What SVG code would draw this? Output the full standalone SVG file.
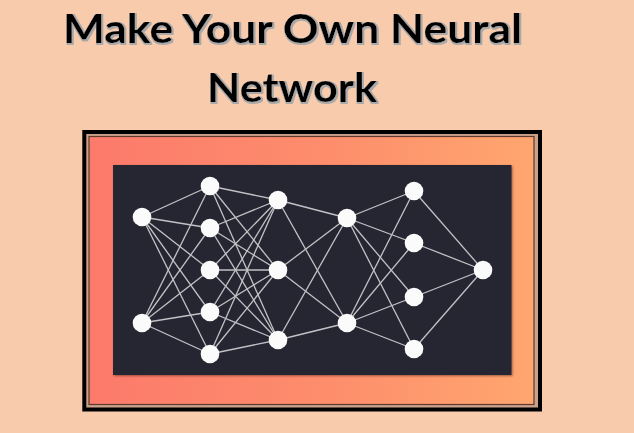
<svg xmlns="http://www.w3.org/2000/svg" width="634" height="433" viewBox="0 0 634 433">
  <defs>
    <linearGradient id="frameGrad" x1="0" y1="0" x2="1" y2="0">
      <stop offset="0" stop-color="#fc7a6b"/>
      <stop offset="0.55" stop-color="#fd8e6c"/>
      <stop offset="1" stop-color="#ffa66f"/>
    </linearGradient>
    <filter id="panelShadow" x="-5%" y="-5%" width="110%" height="110%">
      <feGaussianBlur in="SourceAlpha" stdDeviation="1.2"/>
      <feOffset dx="0.5" dy="0.5" result="b"/>
      <feFlood flood-color="#5a2a20" flood-opacity="0.6"/>
      <feComposite in2="b" operator="in"/>
      <feMerge><feMergeNode/><feMergeNode in="SourceGraphic"/></feMerge>
    </filter>
    <filter id="textShadow" x="-5%" y="-20%" width="110%" height="150%">
      <feMorphology in="SourceAlpha" operator="dilate" radius="0.6" result="d"/>
      <feOffset in="d" dx="1.2" dy="1.4" result="o"/>
      <feGaussianBlur in="o" stdDeviation="0.5" result="ob"/>
      <feFlood flood-color="#a9a9a9"/>
      <feComposite in2="ob" operator="in"/>
      <feMerge><feMergeNode/><feMergeNode in="SourceGraphic"/></feMerge>
    </filter>
  </defs>
  <style>
    .title { font-family: "Lato", "Open Sans", "Liberation Sans", sans-serif; font-weight: bold; font-size: 41px; fill: #000000; }
    .edge { stroke: #c2c2c6; stroke-width: 1.3; fill: none; }
    .node circle { fill: #fbfbfb; }
  </style>

  <rect x="0" y="0" width="634" height="433" fill="#f8cbad"/>

  <g id="title" filter="url(#textShadow)">
    <text class="title" x="63" y="43" textLength="459" lengthAdjust="spacingAndGlyphs">Make Your Own Neural</text>
    <text class="title" x="207" y="102" textLength="170" lengthAdjust="spacingAndGlyphs">Network</text>
  </g>

  <g id="frame">
    <rect x="84.3" y="132" width="455.7" height="277.5" fill="#c9a18c" stroke="#000" stroke-width="4"/>
    <rect x="89" y="136.5" width="445" height="268" fill="url(#frameGrad)" stroke="#5c3a2e" stroke-width="1.2"/>
    <rect x="113" y="165" width="398.5" height="210" fill="#262833" filter="url(#panelShadow)"/>
  </g>

  <g id="connectors">
    <line class="edge" x1="142" y1="217" x2="210" y2="186"/>
    <line class="edge" x1="142" y1="217" x2="210" y2="228"/>
    <line class="edge" x1="142" y1="217" x2="210" y2="270"/>
    <line class="edge" x1="142" y1="217" x2="210" y2="312"/>
    <line class="edge" x1="142" y1="217" x2="210" y2="354"/>
    <line class="edge" x1="142" y1="323" x2="210" y2="186"/>
    <line class="edge" x1="142" y1="323" x2="210" y2="228"/>
    <line class="edge" x1="142" y1="323" x2="210" y2="270"/>
    <line class="edge" x1="142" y1="323" x2="210" y2="312"/>
    <line class="edge" x1="142" y1="323" x2="210" y2="354"/>
    <line class="edge" x1="210" y1="186" x2="278" y2="200"/>
    <line class="edge" x1="210" y1="186" x2="278" y2="270"/>
    <line class="edge" x1="210" y1="186" x2="278" y2="340"/>
    <line class="edge" x1="210" y1="228" x2="278" y2="200"/>
    <line class="edge" x1="210" y1="228" x2="278" y2="270"/>
    <line class="edge" x1="210" y1="228" x2="278" y2="340"/>
    <line class="edge" x1="210" y1="270" x2="278" y2="200"/>
    <line class="edge" x1="210" y1="270" x2="278" y2="270"/>
    <line class="edge" x1="210" y1="270" x2="278" y2="340"/>
    <line class="edge" x1="210" y1="312" x2="278" y2="200"/>
    <line class="edge" x1="210" y1="312" x2="278" y2="270"/>
    <line class="edge" x1="210" y1="312" x2="278" y2="340"/>
    <line class="edge" x1="210" y1="354" x2="278" y2="200"/>
    <line class="edge" x1="210" y1="354" x2="278" y2="270"/>
    <line class="edge" x1="210" y1="354" x2="278" y2="340"/>
    <line class="edge" x1="278" y1="200" x2="347" y2="218"/>
    <line class="edge" x1="278" y1="200" x2="347" y2="323"/>
    <line class="edge" x1="278" y1="270" x2="347" y2="218"/>
    <line class="edge" x1="278" y1="270" x2="347" y2="323"/>
    <line class="edge" x1="278" y1="340" x2="347" y2="218"/>
    <line class="edge" x1="278" y1="340" x2="347" y2="323"/>
    <line class="edge" x1="347" y1="218" x2="414" y2="191"/>
    <line class="edge" x1="347" y1="218" x2="414" y2="243"/>
    <line class="edge" x1="347" y1="218" x2="414" y2="297"/>
    <line class="edge" x1="347" y1="218" x2="414" y2="349"/>
    <line class="edge" x1="347" y1="323" x2="414" y2="191"/>
    <line class="edge" x1="347" y1="323" x2="414" y2="243"/>
    <line class="edge" x1="347" y1="323" x2="414" y2="297"/>
    <line class="edge" x1="347" y1="323" x2="414" y2="349"/>
    <line class="edge" x1="414" y1="191" x2="483" y2="270"/>
    <line class="edge" x1="414" y1="243" x2="483" y2="270"/>
    <line class="edge" x1="414" y1="297" x2="483" y2="270"/>
    <line class="edge" x1="414" y1="349" x2="483" y2="270"/>
  </g>

  <g id="n-in1" class="node"><circle cx="142" cy="217" r="9.3"/></g>
  <g id="n-in2" class="node"><circle cx="142" cy="323" r="9.3"/></g>
  <g id="n-h1a" class="node"><circle cx="210" cy="186" r="9.3"/></g>
  <g id="n-h1b" class="node"><circle cx="210" cy="228" r="9.3"/></g>
  <g id="n-h1c" class="node"><circle cx="210" cy="270" r="9.3"/></g>
  <g id="n-h1d" class="node"><circle cx="210" cy="312" r="9.3"/></g>
  <g id="n-h1e" class="node"><circle cx="210" cy="354" r="9.3"/></g>
  <g id="n-h2a" class="node"><circle cx="278" cy="200" r="9.3"/></g>
  <g id="n-h2b" class="node"><circle cx="278" cy="270" r="9.3"/></g>
  <g id="n-h2c" class="node"><circle cx="278" cy="340" r="9.3"/></g>
  <g id="n-h3a" class="node"><circle cx="347" cy="218" r="9.3"/></g>
  <g id="n-h3b" class="node"><circle cx="347" cy="323" r="9.3"/></g>
  <g id="n-h4a" class="node"><circle cx="414" cy="191" r="9.3"/></g>
  <g id="n-h4b" class="node"><circle cx="414" cy="243" r="9.3"/></g>
  <g id="n-h4c" class="node"><circle cx="414" cy="297" r="9.3"/></g>
  <g id="n-h4d" class="node"><circle cx="414" cy="349" r="9.3"/></g>
  <g id="n-out" class="node"><circle cx="483" cy="270" r="9.3"/></g>
</svg>
